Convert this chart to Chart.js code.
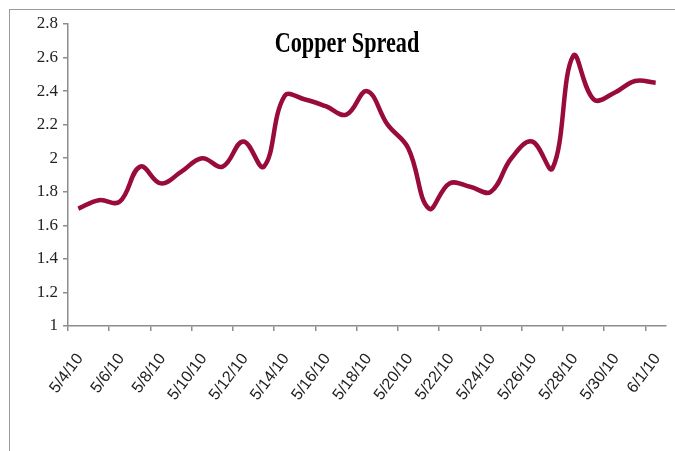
<!DOCTYPE html>
<html>
<head>
<meta charset="utf-8">
<script src="https://cdn.jsdelivr.net/npm/chart.js@4"></script>
<style>
  body { margin: 0; background: #fff; }
  #wrap { position: relative; width: 675px; height: 451px; }
  #frame { position: absolute; left: 9px; top: 9px; right: -5px; bottom: -5px;
           border-left: 1.5px solid #9a9a9a; border-top: 1.5px solid #9a9a9a; }
  canvas { position: absolute; left: 0; top: 0; }
</style>
</head>
<body>
<div id="wrap">
  <div id="frame"></div>
  <canvas id="spreadChart" width="675" height="451"></canvas>
</div>
<script>
const dates = [
    "5/4/10", "5/5/10", "5/6/10", "5/7/10", "5/8/10", "5/9/10", "5/10/10",
    "5/11/10", "5/12/10", "5/13/10", "5/14/10", "5/15/10", "5/16/10", "5/17/10",
    "5/18/10", "5/19/10", "5/20/10", "5/21/10", "5/22/10", "5/23/10", "5/24/10",
    "5/25/10", "5/26/10", "5/27/10", "5/28/10", "5/29/10", "5/30/10", "5/31/10",
    "6/1/10"
];
const spread = [
    1.70, 1.75, 1.74, 1.95, 1.85, 1.92, 2.00,
    1.95, 2.10, 1.95, 2.37, 2.35, 2.31, 2.26,
    2.40, 2.20, 2.06, 1.70, 1.85, 1.83, 1.80,
    2.00, 2.10, 1.94, 2.61, 2.35, 2.39, 2.46,
    2.45
];
const chartTitle = "Copper Spread";

// title sits inside the plot, squeezed like the original
const titlePlugin = {
    id: "insideTitle",
    afterDraw(chart) {
        const ctx = chart.ctx;
        ctx.save();
        ctx.font = "bold 30px 'Liberation Serif'";
        ctx.fillStyle = "#000";
        ctx.textAlign = "center";
        ctx.textBaseline = "alphabetic";
        ctx.translate(347, 52);
        ctx.scale(0.74, 1);
        ctx.fillText(chartTitle, 0, 0);
        ctx.restore();
    }
};

const ctx = document.getElementById("spreadChart").getContext("2d");
new Chart(ctx, {
    type: "line",
    data: {
        datasets: [{
            label: chartTitle,
            data: spread.map((v, i) => ({ x: i + 0.5, y: v })),
            borderColor: "#990b3a",
            borderWidth: 4.5,
            pointRadius: 0,
            tension: 0.4,
            fill: false
        }]
    },
    options: {
        responsive: false,
        animation: false,
        layout: { padding: { left: 0, top: 24, right: 9, bottom: 40 } },
        plugins: {
            legend: { display: false },
            title: { display: false },
            tooltip: { enabled: false }
        },
        scales: {
            x: {
                type: "linear",
                min: 0,
                max: dates.length,
                // one tick every second day, at the start of the day
                afterBuildTicks: s => {
                    s.ticks = dates.map((d, i) => ({ value: i })).filter(t => t.value % 2 === 0);
                },
                afterFit: s => {
                    s.height = 85;
                    s.paddingLeft = 0;
                    s.paddingRight = 0;
                },
                ticks: {
                    autoSkip: false,
                    maxRotation: 53,
                    minRotation: 53,
                    labelOffset: 12,
                    padding: 19,
                    color: "#222",
                    font: { family: "'Liberation Sans'", size: 16 },
                    callback: v => dates[v]
                },
                grid: { drawOnChartArea: false, tickLength: 5, color: "#8c8c8c", lineWidth: 1.5 },
                border: { display: true, color: "#8c8c8c", width: 1.5 }
            },
            y: {
                min: 1,
                max: 2.8,
                afterFit: s => { s.width = 68; },
                ticks: {
                    stepSize: 0.2,
                    padding: 5,
                    color: "#222",
                    font: { family: "'Liberation Serif'", size: 17 },
                    callback: v => String(Math.round(v * 10) / 10)
                },
                grid: { drawOnChartArea: false, tickLength: 5, color: "#8c8c8c", lineWidth: 1.5 },
                border: { display: true, color: "#8c8c8c", width: 1.5 }
            }
        }
    },
    plugins: [titlePlugin]
});
</script>
</body>
</html>
